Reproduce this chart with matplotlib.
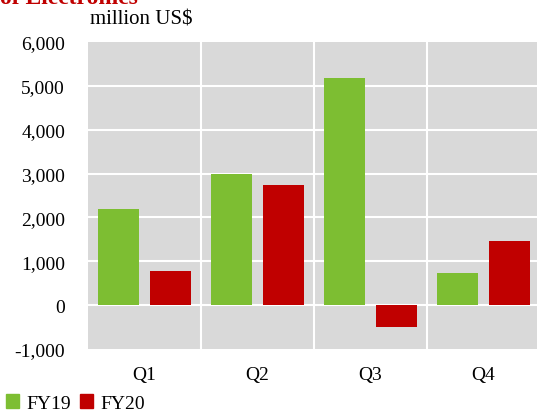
import numpy as np
import matplotlib.pyplot as plt
from matplotlib.patches import Patch

# data
quarters = ['Q1', 'Q2', 'Q3', 'Q4']
fy19 = [2200, 3000, 5170, 740]
fy20 = [780, 2730, -490, 1470]
yticks = [-1000, 0, 1000, 2000, 3000, 4000, 5000, 6000]

green = '#7dbe32'
red = '#c00000'

plt.rcParams['font.family'] = ['Liberation Serif', 'DejaVu Serif']

fig = plt.figure(figsize=(5.37, 4.14), dpi=100)
ax = fig.add_axes([88/537, 1-350/414, 452/537, 307/414])
ax.set_facecolor('#d9d9d9')

x = np.arange(len(quarters))
w = 0.36
ax.bar(x - 0.23, fy19, w, color=green, zorder=3)
ax.bar(x + 0.23, fy20, w, color=red, zorder=3)

ax.set_xlim(-0.5, 3.5)
ax.set_ylim(-1000, 6000)
ax.set_yticks(yticks)
ax.set_yticklabels([f'{v:,}' for v in yticks], fontsize=14)
ax.set_xticks(x)
ax.set_xticklabels(quarters, fontsize=14)
ax.tick_params(axis='y', length=0, pad=16.5)
ax.tick_params(axis='x', length=0, pad=12)

# white gridlines
for v in yticks[1:-1]:
    ax.axhline(v, color='white', lw=1.5, zorder=1)
for v in [0.5, 1.5, 2.5]:
    ax.axvline(v, color='white', lw=1.5, zorder=1)

for s in ax.spines.values():
    s.set_visible(False)

fig.text(90/537, 1-20/414, 'million US$', fontsize=15, va='center', ha='left')
fig.text(0, 1-4/414, 'of Electronics', fontsize=17, fontweight='bold',
         color=red, va='baseline', ha='left')

handles = [Patch(color=green, label='FY19'), Patch(color=red, label='FY20')]
fig.legend(handles=handles, loc='center left', bbox_to_anchor=(0.0, 1-404/414),
           ncol=2, frameon=False, fontsize=14, handlelength=0.7, handleheight=0.7,
           handletextpad=0.35, columnspacing=0.45, borderaxespad=0, borderpad=0.3)

fig.savefig('out.png', dpi=100)
